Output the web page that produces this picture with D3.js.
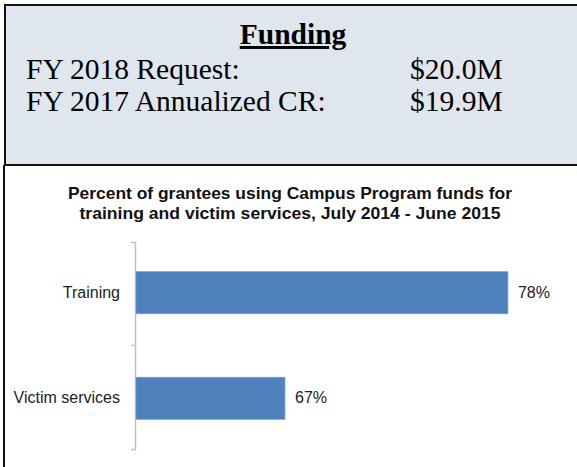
<!DOCTYPE html>
<html lang="en">

<head>
    <meta charset="UTF-8">
    <title>Campus Program funds</title>
    <style>
        body { margin: 0; background: #fff; }
        svg { display: block; }
    </style>
</head>

<body>
    <script src="https://d3js.org/d3.v7.min.js"></script>
    <script>
        // Funding box
        const fundingLabels = ['FY 2018 Request:', 'FY 2017 Annualized CR:'];
        const fundingAmounts = ['$20.0M', '$19.9M'];

        // Chart data
        const categories = ['Training', 'Victim services'];
        const percents = [0.78, 0.67];
        const titleLines = [
            'Percent of grantees using Campus Program funds for',
            'training and victim services, July 2014 - June 2015'
        ];

        const width = 577;
        const height = 467;

        const svg = d3.select('body')
            .append('svg')
            .attr('width', width)
            .attr('height', height);

        // top box
        svg.append('rect')
            .attr('x', 5).attr('y', 5)
            .attr('width', width).attr('height', 160)
            .attr('fill', '#dfe6ee')
            .attr('stroke', '#111')
            .attr('stroke-width', 2);

        svg.append('text')
            .attr('x', 293).attr('y', 44)
            .attr('text-anchor', 'middle')
            .style('font', 'bold 29.5px "Liberation Serif", serif')
            .style('text-decoration', 'underline')
            .text('Funding');

        const serif = '29.5px "Liberation Serif", serif';
        svg.selectAll('text.flabel')
            .data(fundingLabels)
            .enter().append('text')
            .attr('class', 'flabel')
            .attr('x', 26)
            .attr('y', (d, i) => 79 + i * 32)
            .style('font', serif)
            .text(d => d);

        svg.selectAll('text.famount')
            .data(fundingAmounts)
            .enter().append('text')
            .attr('class', 'famount')
            .attr('x', 410)
            .attr('y', (d, i) => 79 + i * 32)
            .style('font', serif)
            .text(d => d);

        // lower panel left border
        svg.append('line')
            .attr('x1', 4).attr('x2', 4)
            .attr('y1', 165).attr('y2', height)
            .attr('stroke', '#111')
            .attr('stroke-width', 2);

        // chart title
        const titleWidths = [444, 421];
        svg.selectAll('text.title')
            .data(titleLines)
            .enter().append('text')
            .attr('class', 'title')
            .attr('x', 290)
            .attr('y', (d, i) => 199 + i * 20)
            .attr('text-anchor', 'middle')
            .attr('textLength', (d, i) => titleWidths[i])
            .attr('lengthAdjust', 'spacingAndGlyphs')
            .style('font', 'bold 17px "Liberation Sans", Arial, sans-serif')
            .style('fill', '#111')
            .text(d => d);

        // scales (axis min is hidden in the original, about 60%)
        const x = d3.scaleLinear()
            .domain([0.5965, 0.8])
            .range([136, 548.5]);

        const y = d3.scaleBand()
            .domain(categories)
            .range([242, 449])
            .paddingInner(0.6)
            .paddingOuter(0.28);

        // category axis
        const axis = svg.append('g')
            .attr('transform', 'translate(135, 0)')
            .call(d3.axisLeft(y).tickSize(0).tickSizeOuter(4).tickPadding(15));
        axis.select('.domain')
            .attr('stroke', '#c0c0c0')
            .attr('stroke-width', 1.5);
        axis.selectAll('.tick text')
            .style('font', '16px "Liberation Sans", Arial, sans-serif')
            .attr('fill', '#222');

        // middle tick between categories
        svg.append('line')
            .attr('x1', 131).attr('x2', 135)
            .attr('y1', (y.range()[0] + y.range()[1]) / 2)
            .attr('y2', (y.range()[0] + y.range()[1]) / 2)
            .attr('stroke', '#c0c0c0')
            .attr('stroke-width', 1.5);

        const barData = categories.map((c, i) => ({ c: c, v: percents[i] }));

        svg.selectAll('rect.bar')
            .data(barData)
            .enter().append('rect')
            .attr('class', 'bar')
            .attr('x', x.range()[0])
            .attr('y', d => y(d.c))
            .attr('width', d => x(d.v) - x.range()[0])
            .attr('height', y.bandwidth())
            .attr('fill', '#4f81bd')
            .attr('stroke', '#7ea2cf')
            .attr('stroke-width', 0.6);

        svg.selectAll('text.value')
            .data(barData)
            .enter().append('text')
            .attr('class', 'value')
            .attr('x', d => x(d.v) + 10)
            .attr('y', d => y(d.c) + y.bandwidth() / 2 + 5)
            .style('font', '16px "Liberation Sans", Arial, sans-serif')
            .attr('fill', '#222')
            .text(d => Math.round(d.v * 100) + '%');
    </script>
</body>

</html>
